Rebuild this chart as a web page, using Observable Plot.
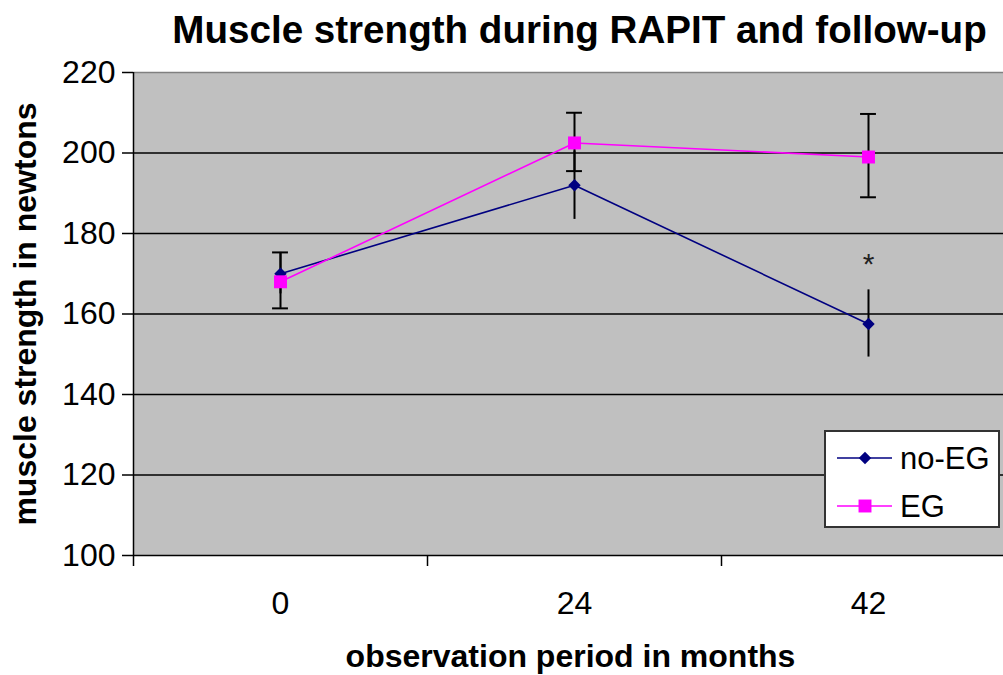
<!DOCTYPE html>
<html><head><meta charset="utf-8">
<script src="https://cdn.jsdelivr.net/npm/d3@7"></script>
<script src="https://cdn.jsdelivr.net/npm/@observablehq/plot@0.6"></script>
<style>
body{margin:0;background:#fff;font-family:"Liberation Sans",Arial,sans-serif;}
#wrap{position:relative;width:1003px;height:675px;overflow:hidden;}
#legend{position:absolute;left:824px;top:430px;width:172px;height:94px;border:2px solid #333;background:#fff;}
</style></head><body><div id="wrap"></div>
<script>
const title = "Muscle strength during RAPIT and follow-up";
const xTitle = "observation period in months";
const yTitle = "muscle strength in newtons";
const categories = ["0", "24", "42"];
const seriesNames = ["no-EG", "EG"];
const seriesColors = ["#000080", "#ff00ff"];
const seriesSymbols = ["diamond2", "square"];
const noEG = [170, 192, 157.5];
const noEGLow = [165, 183.5, 149.3];
const noEGHigh = [175, 200.5, 166];
const EG = [168, 202.5, 199];
const EGLow = [161.4, 195.5, 189];
const EGHigh = [175.3, 210, 209.7];
const yTicks = [100, 120, 140, 160, 180, 200, 220];
const annotations = [{i: 2, y: 174, text: "*"}];

const rows = [];
categories.forEach((c, i) => {
  rows.push({i, series: "no-EG", v: noEG[i], lo: noEGLow[i], hi: noEGHigh[i]});
  rows.push({i, series: "EG", v: EG[i], lo: EGLow[i], hi: EGHigh[i]});
});
const egRows = rows.filter(d => d.series === "EG");
const boundaries = d3.range(categories.length).map(i => i - 0.5);
const capHalf = 0.027;
const font = '"Liberation Sans", Arial, sans-serif';

const chart = Plot.plot({
  width: 1003, height: 675,
  marginTop: 72, marginBottom: 120, marginLeft: 133, marginRight: 0,
  style: {fontFamily: font, background: "#fff", color: "#000", overflow: "visible"},
  x: {domain: [-0.5, categories.length - 0.5], range: [133, 1015], label: null},
  y: {domain: [100, 220], label: null},
  color: {domain: seriesNames, range: seriesColors},
  marks: [
    Plot.frame({fill: "#c0c0c0", stroke: null}),
    Plot.ruleY(yTicks.filter(t => t > 100 && t < 220), {stroke: "#000", strokeWidth: 1.5}),
    Plot.ruleY([220], {stroke: "#808080", strokeWidth: 1.5}),
    Plot.ruleY([100], {stroke: "#000", strokeWidth: 1.5}),
    Plot.ruleX([-0.5], {stroke: "#000", strokeWidth: 1.5}),
    Plot.axisY({ticks: yTicks, tickSize: 11, tickPadding: 7, fontSize: 32, strokeWidth: 1.5, label: null}),
    Plot.axisX({ticks: boundaries, tickSize: 11, tickFormat: () => "", strokeWidth: 1.5, label: null}),
    Plot.axisX({ticks: d3.range(categories.length), tickSize: 0, tickPadding: 36, tickFormat: i => categories[i], fontSize: 32, label: null}),
    Plot.ruleX(rows, {x: "i", y1: "lo", y2: "hi", stroke: "#000", strokeWidth: 2}),
    Plot.ruleY(egRows, {y: "lo", x1: d => d.i - capHalf, x2: d => d.i + capHalf, stroke: "#000", strokeWidth: 2}),
    Plot.ruleY(egRows, {y: "hi", x1: d => d.i - capHalf, x2: d => d.i + capHalf, stroke: "#000", strokeWidth: 2}),
    Plot.line(rows, {x: "i", y: "v", z: "series", stroke: "series", strokeWidth: 1.6}),
    Plot.dot(rows.filter(d => d.series === "no-EG"), {x: "i", y: "v", symbol: () => seriesSymbols[0], r: 5.6, fill: seriesColors[0], stroke: null}),
    Plot.dot(egRows, {x: "i", y: "v", symbol: () => seriesSymbols[1], r: 7.3, fill: seriesColors[1], stroke: null}),
    Plot.text(annotations, {x: "i", y: "y", text: "text", fontSize: 30, dy: 7, fill: "#222"}),
    Plot.text([title], {frameAnchor: "top", lineAnchor: "middle", textAnchor: "middle", dy: -42, dx: 11, fontSize: 38.6, fontWeight: "bold", fill: "#000"}),
    Plot.text([xTitle], {frameAnchor: "bottom", lineAnchor: "middle", textAnchor: "middle", dy: 101, dx: 2, fontSize: 32, fontWeight: "bold", fill: "#000"}),
    Plot.text([yTitle], {frameAnchor: "left", lineAnchor: "middle", textAnchor: "middle", dx: -108, rotate: -90, fontSize: 32, fontWeight: "bold", fill: "#000"})
  ]
});
const wrap = document.getElementById("wrap");
wrap.appendChild(chart);

// legend
const legend = document.createElement("div");
legend.id = "legend";
wrap.appendChild(legend);
const ls = d3.select(legend).append("svg").attr("width", 172).attr("height", 94);
const sym = {"diamond2": d3.symbol(d3.symbolDiamond2, 5.6 * 5.6 * Math.PI), "square": d3.symbol(d3.symbolSquare, 7.3 * 7.3 * Math.PI)};
seriesNames.forEach((name, k) => {
  const g = ls.append("g").attr("transform", `translate(0,${26 + k * 48})`);
  g.append("line").attr("x1", 11).attr("x2", 66).attr("y1", 0).attr("y2", 0).attr("stroke", seriesColors[k]).attr("stroke-width", 1.6);
  g.append("path").attr("d", sym[seriesSymbols[k]]()).attr("transform", "translate(39,0)").attr("fill", seriesColors[k]);
  g.append("text").attr("x", 74).attr("y", 0).attr("dy", "0.35em").attr("font-size", 31).attr("font-family", font).attr("fill", "#000").text(name);
});
</script></body></html>
